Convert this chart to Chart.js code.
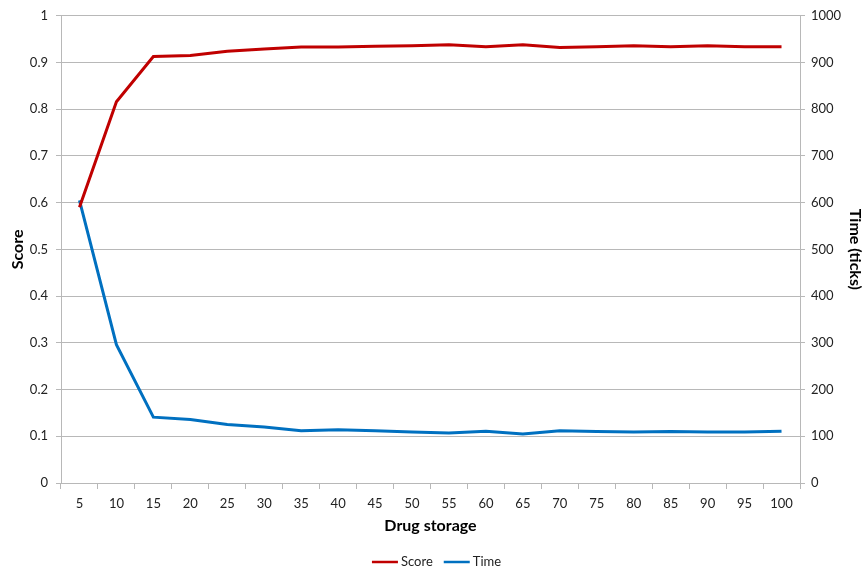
<!DOCTYPE html>
<html>
<head>
<meta charset="utf-8">
<script src="https://cdn.jsdelivr.net/npm/chart.js@4/dist/chart.umd.min.js"></script>
<style>
  html, body { margin: 0; padding: 0; background: #ffffff; }
  #wrap { width: 867px; height: 572px; position: relative; }
</style>
</head>
<body>
<div id="wrap"><canvas id="c"></canvas></div>
<script>
// Drug storage levels on the x axis
const storage = [5, 10, 15, 20, 25, 30, 35, 40, 45, 50, 55, 60, 65, 70, 75, 80, 85, 90, 95, 100];
// Score (left axis)
const score = [0.59, 0.816, 0.913, 0.915, 0.924, 0.929, 0.933, 0.933, 0.935, 0.936,
               0.938, 0.934, 0.938, 0.932, 0.934, 0.936, 0.934, 0.936, 0.934, 0.934];
// Time in ticks (right axis)
const timeTicks = [605, 296, 141, 136, 125, 120, 112, 114, 112, 109,
                   107, 111, 105, 112, 110, 109, 110, 109, 109, 111];

const FONT = 'Lato, "Open Sans", sans-serif';
const gridColor = '#b8b8b8';
const textColor = '#222222';

// Compact legend along the bottom edge: short line sample, then the series name
const bottomLegend = {
  id: 'bottomLegend',
  afterDraw(chart) {
    const ctx = chart.ctx;
    const y = chart.height - 10;
    const lineLen = 26, gapText = 3, gapItem = 11;
    ctx.save();
    ctx.font = '13px ' + FONT;
    const items = chart.data.datasets.map(ds => ({ ds, w: lineLen + gapText + ctx.measureText(ds.label).width }));
    const total = items.reduce((a, it) => a + it.w, 0) + gapItem * (items.length - 1);
    let x = chart.width / 2 - total / 2 + 3;
    items.forEach(({ ds, w }) => {
      ctx.strokeStyle = ds.borderColor;
      ctx.lineWidth = 2.5;
      ctx.beginPath();
      ctx.moveTo(x, y);
      ctx.lineTo(x + lineLen, y);
      ctx.stroke();
      ctx.fillStyle = textColor;
      ctx.textBaseline = 'middle';
      ctx.textAlign = 'left';
      ctx.fillText(ds.label, x + lineLen + gapText, y);
      x += w + gapItem;
    });
    ctx.restore();
  }
};

new Chart(document.getElementById('c'), {
  type: 'line',
  data: {
    labels: storage.map(String),
    datasets: [
      { label: 'Score', data: score, yAxisID: 'yScore', borderColor: '#c00000', backgroundColor: '#c00000',
        borderWidth: 3, pointRadius: 0, tension: 0 },
      { label: 'Time', data: timeTicks, yAxisID: 'yTime', borderColor: '#0070c0', backgroundColor: '#0070c0',
        borderWidth: 3, pointRadius: 0, tension: 0 }
    ]
  },
  plugins: [bottomLegend],
  options: {
    responsive: true,
    maintainAspectRatio: false,
    animation: false,
    layout: { padding: { top: 14, right: 0, bottom: 0, left: 0 } },
    plugins: {
      tooltip: { enabled: false },
      legend: { display: false }
    },
    scales: {
      x: {
        offset: true,
        grid: { offset: true, drawOnChartArea: false, color: gridColor, tickLength: 6 },
        border: { color: gridColor },
        ticks: { font: { family: FONT, size: 13 }, color: textColor, maxRotation: 0, autoSkip: false, padding: 7 },
        title: { display: true, text: 'Drug storage', font: { family: FONT, size: 16, weight: 'bold' }, color: '#000', padding: { top: 6, bottom: 37 } },
        afterFit: s => { s.height = 89; }
      },
      yScore: {
        position: 'left', min: 0, max: 1,
        ticks: { stepSize: 0.1, font: { family: FONT, size: 13 }, color: textColor, padding: 8,
                 callback: v => String(Math.round(v * 10) / 10) },
        grid: { color: gridColor, tickLength: 5 },
        border: { color: gridColor },
        title: { display: true, text: 'Score', font: { family: FONT, size: 16, weight: 'bold' }, color: '#000', padding: { top: 8, bottom: 0 } },
        afterFit: s => { s.width = 61; }
      },
      yTime: {
        position: 'right', min: 0, max: 1000,
        ticks: { stepSize: 100, font: { family: FONT, size: 13 }, color: textColor, padding: 6,
                 callback: v => String(v) },
        grid: { drawOnChartArea: false, color: gridColor, tickLength: 5 },
        border: { color: gridColor },
        title: { display: true, text: 'Time (ticks)', font: { family: FONT, size: 16, weight: 'bold' }, color: '#000', padding: { top: 2, bottom: 0 } },
        afterFit: s => { s.width = 67; }
      }
    }
  }
});
</script>
</body>
</html>
